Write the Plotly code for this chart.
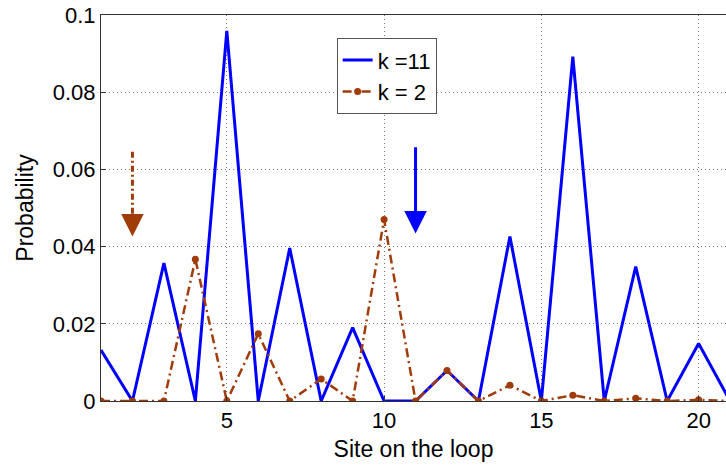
import plotly.graph_objects as go

# Site index along the loop
sites = list(range(1, 22))

# Probability at each site for the two initial positions
prob_k11 = [0.0132, 0.0, 0.0357, 0.0, 0.0959, 0.0, 0.0396, 0.0, 0.0190, 0.0,
            0.0, 0.0079, 0.0, 0.0426, 0.0, 0.0892, 0.0, 0.0348, 0.0, 0.0149, 0.0]
prob_k2 = [0.0, 0.0, 0.0, 0.0367, 0.0, 0.0174, 0.0, 0.0057, 0.0, 0.0470,
           0.0, 0.0079, 0.0, 0.0041, 0.0, 0.0015, 0.0, 0.0007, 0.0, 0.0003, 0.0]

# Starting-site markers: (site, arrow tail, arrow tip)
arrow_k2 = (2, 0.0646, 0.0426)
arrow_k11 = (11, 0.0661, 0.0434)

x_ticks = [5, 10, 15, 20]
y_ticks = [0, 0.02, 0.04, 0.06, 0.08, 0.1]
y_tick_text = ["0", "0.02", "0.04", "0.06", "0.08", "0.1"]

BLUE = "#0000FF"
BROWN = "#A03C0A"
FONT = "Liberation Sans, Arial, sans-serif"

fig = go.Figure()
fig.add_trace(go.Scatter(
    x=sites, y=prob_k11, mode="lines", name="k =11",
    line=dict(color=BLUE, width=3)))
fig.add_trace(go.Scatter(
    x=sites, y=prob_k2, mode="lines+markers", name="k = 2",
    line=dict(color=BROWN, width=2.5, dash="9px,4px,2px,4px"),
    marker=dict(color=BROWN, size=7)))

# Dashed shaft for k=2, solid shaft for k=11, heads as annotations
sx, top, tip = arrow_k2
fig.add_shape(type="line", x0=sx, x1=sx, y0=top, y1=tip + 0.004,
              xref="x", yref="y", line=dict(color=BROWN, width=3, dash="6px,3px,2px,3px"))
fig.add_annotation(x=sx, y=tip, ax=sx, ay=tip + 0.006, xref="x", yref="y",
                   axref="x", ayref="y", text="", showarrow=True,
                   arrowhead=2, arrowsize=1.5, arrowwidth=3, arrowcolor=BROWN)
sx, top, tip = arrow_k11
fig.add_annotation(x=sx, y=tip, ax=sx, ay=top, xref="x", yref="y",
                   axref="x", ayref="y", text="", showarrow=True,
                   arrowhead=2, arrowsize=1.5, arrowwidth=3, arrowcolor=BLUE)

axis_common = dict(
    showgrid=True, gridcolor="#777777", griddash="1px,3px", gridwidth=1,
    showline=True, linecolor="#333333", linewidth=1, mirror=True,
    ticks="inside", ticklen=5, tickcolor="#333333",
    zeroline=False, tickfont=dict(family=FONT, size=22, color="black"),
)

fig.update_xaxes(range=[1, 20.87], tickvals=x_ticks,
                 title=dict(text="Site on the loop", font=dict(family=FONT, size=23, color="black"),
                            standoff=8),
                 **axis_common)
fig.update_yaxes(range=[0, 0.1], tickvals=y_ticks, ticktext=y_tick_text,
                 title=dict(text="Probability", font=dict(family=FONT, size=23, color="black"),
                            standoff=12),
                 **axis_common)

fig.update_layout(
    width=726, height=466,
    margin=dict(l=101, r=0, t=15, b=65),
    plot_bgcolor="white", paper_bgcolor="white",
    font=dict(family=FONT, color="black"),
    legend=dict(x=0.377, y=0.94, xanchor="left", yanchor="top",
                bgcolor="white", bordercolor="#555555", borderwidth=1,
                font=dict(family=FONT, size=22, color="black"),
                tracegroupgap=0, itemwidth=30),
    showlegend=True,
)

fig.write_html("out.html")
